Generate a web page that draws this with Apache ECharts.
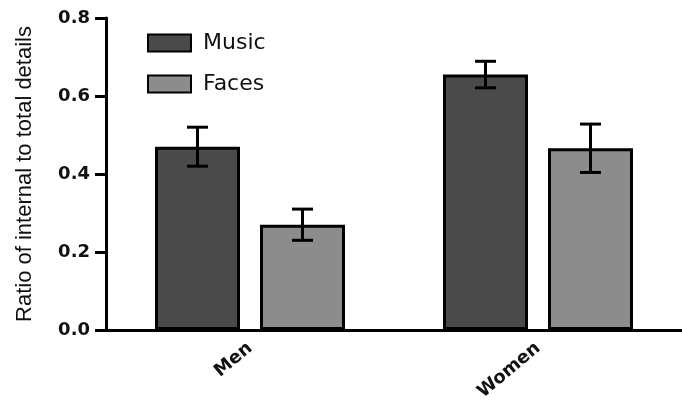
<!DOCTYPE html>
<html>
<head>
<meta charset="utf-8">
<script src="https://cdn.jsdelivr.net/npm/echarts@6/dist/echarts.min.js"></script>
<style>
  html, body { margin: 0; padding: 0; background: #fff; }
  #chart { width: 682px; height: 405px; }
</style>
</head>
<body>
<div id="chart"></div>
<script>
// Groups and measured means with standard errors
const groups = ['Men', 'Women'];
const seriesNames = ['Music', 'Faces'];
const musicMean = [0.47, 0.655];
const musicErr = [0.05, 0.034];
const facesMean = [0.27, 0.466];
const facesErr = [0.04, 0.062];
const yTicks = [0, 0.2, 0.4, 0.6, 0.8];

const BAR_W = 85;
const BAR_GAP = 20;
const CAP_HALF = 10.5;
const INK = '#000';

// Error bar drawn on top of a bar, shifted to that bar's slot in the group
function errorSeries(name, means, errs, offset) {
  return {
    type: 'custom',
    name: name + ' SE',
    z: 5,
    silent: true,
    data: means.map((m, i) => [i, m - errs[i], m + errs[i]]),
    renderItem: function (params, api) {
      const lo = api.coord([api.value(0), api.value(1)]);
      const hi = api.coord([api.value(0), api.value(2)]);
      const x = lo[0] + offset;
      const style = { stroke: INK, lineWidth: 3, fill: null };
      return {
        type: 'group',
        children: [
          { type: 'line', shape: { x1: x, y1: lo[1], x2: x, y2: hi[1] }, style: style },
          { type: 'line', shape: { x1: x - CAP_HALF, y1: hi[1], x2: x + CAP_HALF, y2: hi[1] }, style: style },
          { type: 'line', shape: { x1: x - CAP_HALF, y1: lo[1], x2: x + CAP_HALF, y2: lo[1] }, style: style }
        ]
      };
    }
  };
}

const half = (BAR_W + BAR_GAP) / 2;

const chart = echarts.init(document.getElementById('chart'), null, { renderer: 'canvas' });
chart.setOption({
  animation: false,
  backgroundColor: '#fff',
  grid: { left: 106, top: 18, width: 587, height: 312 },
  legend: {
    orient: 'vertical',
    left: 142,
    top: 27,
    icon: 'rect',
    itemWidth: 43,
    itemHeight: 17,
    itemGap: 19,
    data: seriesNames,
    textStyle: {
      fontFamily: 'DejaVu Sans',
      fontSize: 22,
      color: '#111',
      padding: [2, 0, 0, 7]
    }
  },
  xAxis: {
    type: 'category',
    data: groups,
    axisLine: { lineStyle: { color: INK, width: 3 } },
    axisTick: { alignWithLabel: true, length: 7, lineStyle: { color: INK, width: 3 } },
    axisLabel: {
      rotate: 40,
      margin: 16,
      fontFamily: 'DejaVu Sans',
      fontWeight: 'bold',
      fontSize: 18,
      color: '#111'
    }
  },
  yAxis: {
    type: 'value',
    min: yTicks[0],
    max: yTicks[yTicks.length - 1],
    interval: 0.2,
    name: 'Ratio of internal to total details',
    nameLocation: 'middle',
    nameGap: 70,
    nameTextStyle: { fontFamily: 'Liberation Sans', fontSize: 22, color: '#111' },
    axisLine: { show: true, lineStyle: { color: INK, width: 3 } },
    axisTick: { show: true, length: 11, lineStyle: { color: INK, width: 3 } },
    splitLine: { show: false },
    axisLabel: {
      margin: 16,
      fontFamily: 'DejaVu Sans',
      fontWeight: 'bold',
      fontSize: 18,
      color: '#111',
      formatter: v => v.toFixed(1)
    }
  },
  series: [
    {
      type: 'bar',
      name: seriesNames[0],
      data: musicMean,
      barWidth: BAR_W,
      barGap: (BAR_GAP / BAR_W * 100) + '%',
      itemStyle: { color: '#4a4a4a', borderColor: INK, borderWidth: 3 }
    },
    {
      type: 'bar',
      name: seriesNames[1],
      data: facesMean,
      barWidth: BAR_W,
      itemStyle: { color: '#8c8c8c', borderColor: INK, borderWidth: 3 }
    },
    errorSeries(seriesNames[0], musicMean, musicErr, -half),
    errorSeries(seriesNames[1], facesMean, facesErr, half)
  ]
});
</script>
</body>
</html>
